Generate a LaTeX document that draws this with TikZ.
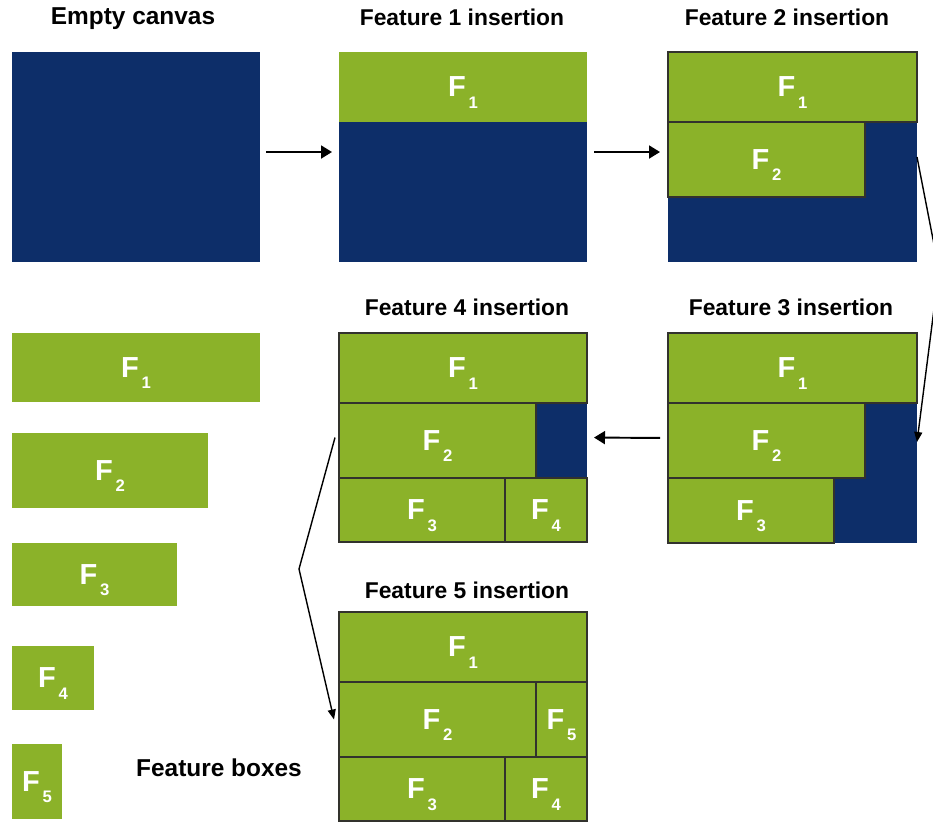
\documentclass[tikz,border=0pt]{standalone}
\usepackage{fontspec}
\setmainfont{Liberation Sans}
\usepackage{tikz}
\usepackage{xcolor}
\usetikzlibrary{
    arrows.meta,
    fit
}
\definecolor{navy}{RGB}{13,46,105}
\definecolor{leaf}{RGB}{139,178,41}
\definecolor{edge}{RGB}{50,50,45}
\newcommand{\Fl}[1]{F\hspace{1.5pt}\raisebox{-6.4pt}[0pt][0pt]{\fontsize{9.5}{9.5}\selectfont #1}}
\tikzset{canvas/.style={fill=navy, inner sep=0pt, outer sep=0pt},
    feat/.style={fill=leaf, draw=edge, line width=0.6pt, inner sep=0pt, outer sep=0pt},
    loosefeat/.style={feat, draw=none},
    flabel/.style={text=white, inner sep=0pt, font=\fontsize{16.5}{16.5}\selectfont\bfseries},
    heading/.style={font=\fontsize{13}{13}\selectfont\bfseries},
    bigheading/.style={font=\fontsize{13.9}{13.9}\selectfont\bfseries},
    arr/.style={-{Triangle[length=0.22cm, width=0.26cm]}, line width=1.1pt},
    link/.style={-{Triangle[length=0.2cm, width=0.16cm]}, line width=0.8pt}
}

\begin{document}
\begin{tikzpicture}[x=0.02cm, y=-0.02cm]
            \useasboundingbox (0,0) rectangle (933,823);
            
            % canvases
            \node[canvas, fit={(12,52) (260,262)}] (cv0) {};
            \node[canvas, fit={(339,52) (587,262)}] (cv1) {};
            \node[canvas, fit={(668,52) (917,262)}] (cv2) {};
            \node[canvas, fit={(668,333) (917,543)}] (cv3) {};
            \node[canvas, fit={(339,333) (587,542)}] (cv4) {};
            
            % feature 1 insertion
            \node[loosefeat, fit={(339,52) (587,122)}, label={[flabel]center:\Fl{1}}] (a1) {};
            
            % feature 2 insertion
            \node[feat, fit={(668,52) (917,122)}, label={[flabel]center:\Fl{1}}] (b1) {};
            \node[feat, fit={(668,122) (865,197)}, label={[flabel]center:\Fl{2}}] (b2) {};
            
            % feature 3 insertion
            \node[feat, fit={(668,333) (917,403)}, label={[flabel]center:\Fl{1}}] (c1) {};
            \node[feat, fit={(668,403) (865,478)}, label={[flabel]center:\Fl{2}}] (c2) {};
            \node[feat, fit={(668,478) (834,543)}, label={[flabel]center:\Fl{3}}] (c3) {};
            
            % feature 4 insertion
            \node[feat, fit={(339,333) (587,403)}, label={[flabel]center:\Fl{1}}] (d1) {};
            \node[feat, fit={(339,403) (536,478)}, label={[flabel]center:\Fl{2}}] (d2) {};
            \node[feat, fit={(339,478) (505,542)}, label={[flabel]center:\Fl{3}}] (d3) {};
            \node[feat, fit={(505,478) (587,542)}, label={[flabel]center:\Fl{4}}] (d4) {};
            
            % feature 5 insertion
            \node[feat, fit={(339,612) (587,682)}, label={[flabel]center:\Fl{1}}] (e1) {};
            \node[feat, fit={(339,682) (536,757)}, label={[flabel]center:\Fl{2}}] (e2) {};
            \node[feat, fit={(536,682) (587,757)}, label={[flabel]center:\Fl{5}}] (e5) {};
            \node[feat, fit={(339,757) (505,821)}, label={[flabel]center:\Fl{3}}] (e3) {};
            \node[feat, fit={(505,757) (587,821)}, label={[flabel]center:\Fl{4}}] (e4) {};
            
            % feature boxes
            \node[loosefeat, fit={(12,333) (260,402)}, label={[flabel]center:\Fl{1}}] (f1) {};
            \node[loosefeat, fit={(12,433) (208,508)}, label={[flabel]center:\Fl{2}}] (f2) {};
            \node[loosefeat, fit={(12,543) (177,606)}, label={[flabel]center:\Fl{3}}] (f3) {};
            \node[loosefeat, fit={(12,646) (94,710)}, label={[flabel]center:\Fl{4}}] (f4) {};
            \node[loosefeat, fit={(12,744) (62,819)}, label={[flabel]center:\Fl{5}}] (f5) {};
            
            \node[bigheading] (t0) at (133, 19) {Empty canvas};
            \node[heading] (t1) at (462, 17) {Feature 1 insertion};
            \node[heading] (t2) at (787, 17) {Feature 2 insertion};
            \node[heading] (t3) at (791, 307) {Feature 3 insertion};
            \node[heading] (t4) at (467, 307) {Feature 4 insertion};
            \node[heading] (t5) at (467, 590) {Feature 5 insertion};
            \node[bigheading] (tb) at (219, 768) {Feature boxes};
            
            \coordinate (bend1) at (939, 270);
            \coordinate (bend2) at (299, 569);
            
            \draw[arr, shorten <=0.12cm, shorten >=0.14cm] ([yshift=0.1cm]cv0.east) -- ([yshift=0.1cm]cv1.west);
            \draw[arr, shorten <=0.14cm, shorten >=0.16cm] ([yshift=0.1cm]cv1.east) -- ([yshift=0.1cm]cv2.west);
            \draw[arr, shorten <=0.16cm, shorten >=0.14cm] (cv3.west) -- (cv4.east);
            \draw[link] (cv2.east) -- (bend1) -- ([yshift=-0.08cm]cv3.east);
            \draw[link] ([xshift=-0.08cm]cv4.west) -- (bend2) -- ([xshift=-0.1cm]e2.west);
            \end{tikzpicture}
\end{document}
